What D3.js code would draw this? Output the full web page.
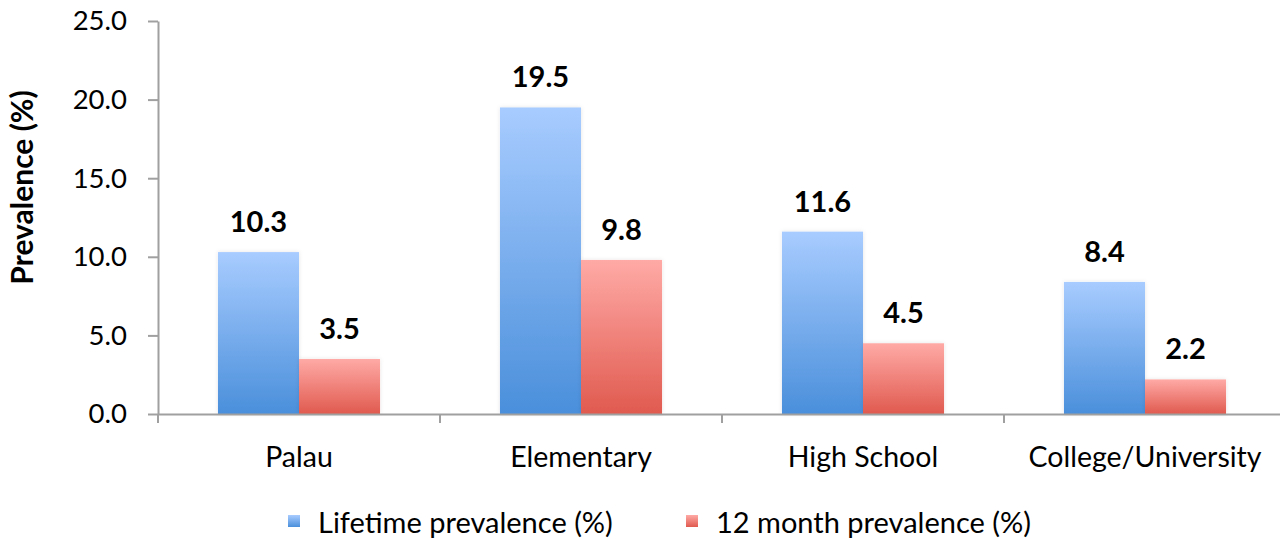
<!DOCTYPE html>
<html>
<head>
<meta charset="utf-8">
<script src="https://cdn.jsdelivr.net/npm/d3@7"></script>
<style>
  html, body { margin: 0; padding: 0; background: #fff; }
  svg text { font-family: Lato, "Open Sans", sans-serif; fill: #000; }
</style>
</head>
<body>
<svg id="chart" width="1280" height="539"></svg>
<script>
const categories = ["Palau", "Elementary", "High School", "College/University"];
const seriesNames = ["Lifetime prevalence (%)", "12 month prevalence (%)"];
const lifetime = [10.3, 19.5, 11.6, 8.4];
const twelveMonth = [3.5, 9.8, 4.5, 2.2];
const yTicks = [0, 5, 10, 15, 20, 25];
const yTitle = "Prevalence (%)";

const series = [lifetime, twelveMonth];
const gradStops = [["#a8ccff", "#4a8fdb"], ["#ffaaa6", "#e05a4f"]];

const svg = d3.select("#chart");
const left = 158;
const bandW = 282;
const x0 = d3.scaleBand().domain(categories).range([left, left + bandW * categories.length]).paddingInner(0).paddingOuter(0);
const x1 = d3.scaleBand().domain([0, 1]).range([0, x0.bandwidth()]).paddingOuter(0.74).paddingInner(0);
const y = d3.scaleLinear().domain([0, 25]).range([414, 21]);

const defs = svg.append("defs");
gradStops.forEach((s, i) => {
  const g = defs.append("linearGradient").attr("id", "g" + i).attr("x1", 0).attr("y1", 0).attr("x2", 0).attr("y2", 1);
  g.append("stop").attr("offset", "0%").attr("stop-color", s[0]);
  g.append("stop").attr("offset", "100%").attr("stop-color", s[1]);
});
const f = defs.append("filter").attr("id", "sh").attr("x", "-20%").attr("y", "-20%").attr("width", "140%").attr("height", "140%");
f.append("feDropShadow").attr("dx", 0).attr("dy", 0).attr("stdDeviation", 2).attr("flood-color", "#000").attr("flood-opacity", 0.1);

// bars
categories.forEach((c, ci) => {
  series.forEach((vals, si) => {
    svg.append("rect")
      .attr("x", x0(c) + x1(si))
      .attr("y", y(vals[ci]))
      .attr("width", x1.bandwidth())
      .attr("height", y(0) - y(vals[ci]))
      .attr("fill", `url(#g${si})`)
      .attr("filter", "url(#sh)");
    svg.append("text")
      .attr("x", x0(c) + x1(si) + x1.bandwidth() / 2)
      .attr("y", y(vals[ci]) - 20)
      .attr("text-anchor", "middle")
      .style("font-weight", "bold")
      .style("font-size", "29px")
      .text(vals[ci].toFixed(1));
  });
});

// y axis
const yAxis = d3.axisLeft(y).tickValues(yTicks).tickFormat(d3.format(".1f")).tickSize(10).tickSizeOuter(0).tickPadding(21);
const ya = svg.append("g").attr("transform", `translate(${left},0)`).call(yAxis);
ya.select(".domain").attr("stroke", "#a0a0a0").attr("stroke-width", 2);
ya.selectAll(".tick line").attr("stroke", "#a0a0a0").attr("stroke-width", 2);
ya.selectAll(".tick text").style("font-size", "27.5px").style("font-family", "Lato, sans-serif").attr("fill", "#000");

// x axis
const xAxis = d3.axisBottom(x0).tickSize(0).tickSizeOuter(0).tickPadding(33);
const xa = svg.append("g").attr("transform", `translate(0,${y(0)})`).call(xAxis);
xa.select(".domain").attr("stroke", "#a0a0a0").attr("stroke-width", 2);
xa.selectAll(".tick text").style("font-size", "28.5px").style("font-family", "Lato, sans-serif").attr("fill", "#000");
const bounds = categories.map(c => x0(c)).concat([x0.range()[1]]);
xa.selectAll(".bound").data(bounds).enter().append("line")
  .attr("x1", d => d).attr("x2", d => d).attr("y1", 0).attr("y2", 9)
  .attr("stroke", "#a0a0a0").attr("stroke-width", 2);

// y title
svg.append("text")
  .attr("transform", `translate(33,${(90 + 285) / 2}) rotate(-90)`)
  .attr("text-anchor", "middle")
  .style("font-weight", "bold")
  .style("font-size", "30px")
  .text(yTitle);

// legend
const legX = [288, 686];
seriesNames.forEach((n, i) => {
  svg.append("rect").attr("x", legX[i]).attr("y", 515).attr("width", 12).attr("height", 12).attr("fill", `url(#g${i})`);
  svg.append("text").attr("x", legX[i] + 30).attr("y", 533).style("font-size", "29px").text(n);
});
</script>
</body>
</html>
